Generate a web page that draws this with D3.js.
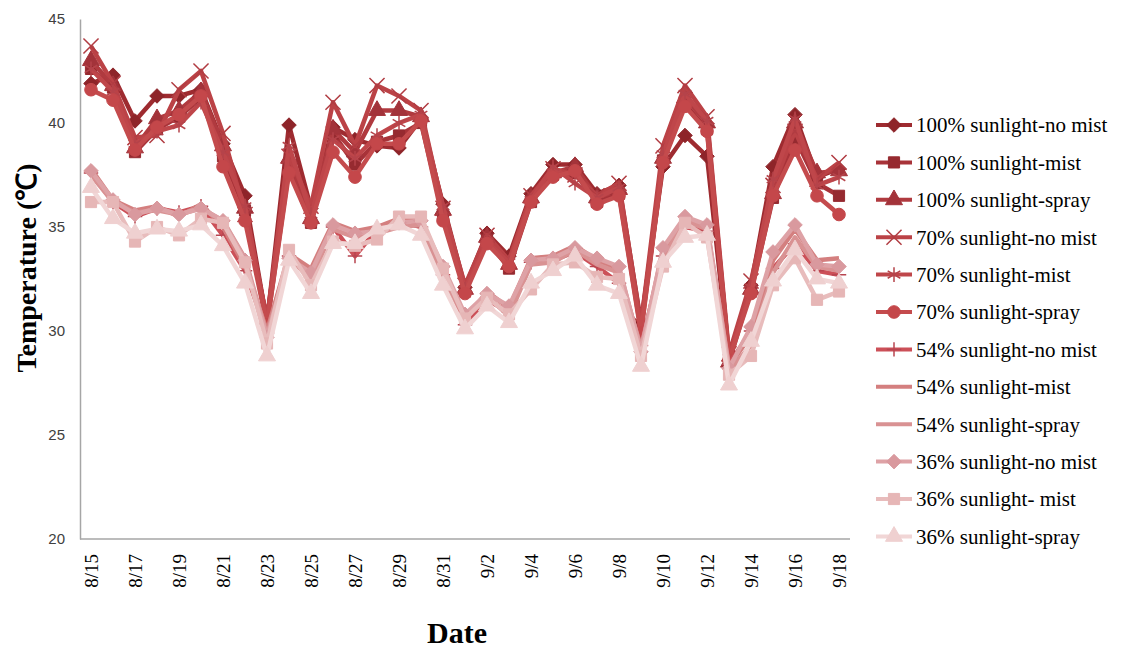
<!DOCTYPE html>
<html>
<head>
<meta charset="utf-8">
<script src="https://cdn.jsdelivr.net/npm/d3@7"></script>
<style>
  body { margin: 0; background: #fff; }
  .serif { font-family: "Liberation Serif", "Times New Roman", serif; }
  .sans { font-family: "Liberation Sans", Arial, sans-serif; }
</style>
</head>
<body>
<div class="chart"></div>
<script>
// dates 8/15 .. 9/18
const dates = ["8/15","8/16","8/17","8/18","8/19","8/20","8/21","8/22","8/23","8/24","8/25","8/26","8/27","8/28","8/29","8/30","8/31",
  "9/1","9/2","9/3","9/4","9/5","9/6","9/7","9/8","9/9","9/10","9/11","9/12","9/13","9/14","9/15","9/16","9/17","9/18"];
const tickDates = dates.filter((d, i) => i % 2 === 0);
const yTicks = [20, 25, 30, 35, 40, 45];

const seriesNames = ["100% sunlight-no mist","100% sunlight-mist","100% sunlight-spray",
  "70% sunlight-no mist","70% sunlight-mist","70% sunlight-spray",
  "54% sunlight-no mist","54% sunlight-mist","54% sunlight-spray",
  "36% sunlight-no mist","36% sunlight- mist","36% sunlight-spray"];

const sun100NoMist = [41.9,42.3,40.1,41.3,41.3,41.6,39.0,36.5,30.4,39.9,35.9,39.8,39.2,38.9,38.8,40.2,36.1,32.1,34.7,33.6,36.6,38.0,38.0,36.6,37.0,30.4,37.9,39.4,38.4,28.6,32.2,37.9,40.4,37.4,37.8];
const sun100Mist   = [42.6,41.7,38.6,39.7,40.3,41.2,38.4,35.8,30.3,37.8,35.2,39.5,38.0,39.1,39.4,40.0,35.6,31.9,34.4,33.0,36.2,37.5,37.6,36.2,36.6,30.0,38.2,40.9,39.7,28.8,31.9,36.4,39.3,37.1,36.5];
const sun100Spray  = [43.0,41.8,38.8,40.2,40.6,41.5,38.9,35.9,30.5,38.3,35.4,39.7,38.6,40.6,40.6,40.3,35.8,32.0,34.5,33.2,36.4,37.6,37.9,36.4,36.8,30.2,38.3,41.2,40.0,28.5,32.0,36.6,40.0,37.6,37.7];
const sun70NoMist  = [43.7,41.9,39.3,39.4,41.6,42.5,39.5,35.6,30.6,38.4,36.0,41.0,38.9,41.8,41.3,40.6,35.9,32.2,34.6,33.4,36.5,37.8,37.5,36.5,37.1,30.3,38.9,41.8,40.3,28.9,32.4,37.0,39.6,37.3,38.1];
const sun70Mist    = [42.6,41.5,39.0,39.6,39.9,41.0,38.6,36.0,30.4,38.9,35.6,39.2,38.3,39.4,40.0,40.4,36.0,32.0,34.3,33.3,36.3,37.9,37.1,36.4,36.9,30.1,38.5,41.4,40.1,28.7,32.1,37.3,40.2,37.0,37.4];
const sun70Spray   = [41.6,41.1,38.7,39.8,40.4,41.3,37.9,35.3,30.3,37.6,35.2,38.6,37.4,39.0,39.0,40.1,35.3,31.8,34.2,33.1,36.2,37.4,37.7,36.1,36.5,29.9,38.1,40.8,39.6,28.6,31.8,36.5,38.7,36.5,35.6];
const sun54NoMist  = [37.6,36.2,35.5,35.9,35.7,36.0,34.6,32.9,29.9,33.6,32.6,35.0,33.6,34.9,35.3,35.0,32.7,30.3,31.5,30.9,33.3,33.4,33.8,33.1,32.3,29.3,33.6,35.0,34.8,28.4,30.0,33.0,34.2,32.9,32.7];
const sun54Mist    = [37.8,36.3,35.8,36.0,35.5,36.1,35.0,33.1,30.0,33.7,33.0,35.2,34.8,35.0,35.4,35.3,32.9,30.5,31.9,31.1,33.5,33.6,34.1,33.4,33.0,29.1,33.9,35.4,35.0,28.3,29.8,33.4,34.9,33.4,33.5];
const sun54Spray   = [37.5,36.2,35.7,35.8,35.6,35.9,35.3,33.5,29.8,33.5,32.5,34.9,34.5,34.7,35.0,35.1,32.5,30.7,31.7,30.7,33.2,33.3,33.9,33.2,32.8,29.2,33.5,35.3,34.9,28.1,29.3,32.8,34.5,33.1,32.9];
const sun36NoMist  = [37.7,36.3,35.6,35.9,35.6,35.9,35.3,33.4,29.7,33.5,32.8,35.1,34.7,34.8,35.2,35.3,33.1,30.8,31.8,31.2,33.4,33.5,34.0,33.5,33.1,29.0,34.0,35.5,35.1,28.2,30.2,33.8,35.1,33.2,33.1];
const sun36Mist    = [36.2,36.2,34.3,35.0,34.6,35.4,35.2,33.3,29.4,33.9,32.2,34.3,34.1,34.4,35.5,35.5,33.0,30.6,31.6,30.8,32.0,33.2,33.3,32.6,32.5,28.8,33.1,35.2,34.5,27.9,28.8,32.2,33.5,31.5,31.9];
const sun36Spray   = [36.9,35.4,34.7,34.9,34.8,35.1,34.1,32.3,28.8,33.4,31.8,34.2,34.2,34.9,35.1,34.6,32.2,30.1,31.2,30.4,32.3,32.9,33.6,32.2,31.8,28.3,33.3,34.5,34.6,27.4,29.5,32.4,33.9,32.5,32.3];

const allValues = [sun100NoMist, sun100Mist, sun100Spray, sun70NoMist, sun70Mist, sun70Spray,
  sun54NoMist, sun54Mist, sun54Spray, sun36NoMist, sun36Mist, sun36Spray];

const colors = ["#9e2b30","#a83339","#b03a3f","#bb4246","#bf464a","#c44b4d",
  "#cc5058","#d47f7f","#d99293","#dea2a6","#e8bcbc","#f1d6d6"];
const markerColors = ["#8e2429","#962a30","#a3333a","#b13c42","#b5434a","#c4474a",
  "#b84550","none","none","#d9999e","#e6b6b6","#efd0d0"];
const markers = [d3.symbolDiamond2, d3.symbolSquare, d3.symbolTriangle, d3.symbolTimes, d3.symbolAsterisk, d3.symbolCircle,
  d3.symbolPlus, null, null, d3.symbolDiamond2, d3.symbolSquare, d3.symbolTriangle];
const markerSizes = [135, 125, 125, 150, 150, 125, 70, 0, 0, 135, 125, 125];
const strokeMarker = [false,false,false,true,true,false,true,false,false,false,false,false];

const w = 1144, h = 650;
const plotLeft = 80, plotRight = 850, plotTop = 19, plotBottom = 539;

const svg = d3.select(".chart").append("svg")
  .attr("width", w)
  .attr("height", h);

const xScale = d3.scalePoint()
  .domain(dates)
  .range([plotLeft, plotRight])
  .padding(0.5);

const yScale = d3.scaleLinear()
  .domain([20, 45])
  .range([plotBottom, plotTop]);

// y axis
const yAxis = d3.axisLeft(yScale).tickValues(yTicks).tickSize(0).tickPadding(15);
const gy = svg.append("g")
  .attr("transform", "translate(" + plotLeft + ",0)")
  .call(yAxis)
  .attr("font-family", null);
gy.select(".domain").attr("stroke", "#a6a6a6").attr("stroke-width", 1.5);
gy.selectAll("text")
  .attr("class", "sans")
  .attr("font-size", 15)
  .attr("fill", "#404040");

// x axis
const xAxis = d3.axisBottom(xScale).tickValues(tickDates).tickSize(0).tickPadding(0);
const gx = svg.append("g")
  .attr("transform", "translate(0," + plotBottom + ")")
  .call(xAxis)
  .attr("font-family", null);
gx.select(".domain").attr("stroke", "#a6a6a6").attr("stroke-width", 1.5)
  .attr("d", "M" + plotLeft + ",0H" + plotRight);
gx.selectAll("text")
  .attr("class", "serif")
  .attr("font-size", 19)
  .attr("fill", "#000")
  .attr("transform", "rotate(-90)")
  .attr("text-anchor", "end")
  .attr("x", -15)
  .attr("y", 0)
  .attr("dy", "0.35em");

// lines
const line = d3.line()
  .x((d, i) => xScale(dates[i]))
  .y(d => yScale(d));

allValues.forEach((vals, s) => {
  svg.append("path")
    .datum(vals)
    .attr("fill", "none")
    .attr("stroke", colors[s])
    .attr("stroke-width", 4.5)
    .attr("stroke-linejoin", "round")
    .attr("d", line);

  if (markers[s]) {
    const sym = d3.symbol().type(markers[s]).size(markerSizes[s]);
    svg.append("g").selectAll("path")
      .data(vals)
      .enter()
      .append("path")
      .attr("transform", (d, i) => "translate(" + xScale(dates[i]) + "," + yScale(d) + ")")
      .attr("d", sym)
      .attr("fill", strokeMarker[s] ? "none" : markerColors[s])
      .attr("stroke", markerColors[s])
      .attr("stroke-width", strokeMarker[s] ? 1.5 : 1);
  }
});

// axis titles
svg.append("text")
  .attr("class", "serif")
  .attr("transform", "translate(36,268) rotate(-90)")
  .attr("text-anchor", "middle")
  .attr("font-weight", "bold")
  .attr("font-size", 28)
  .text("Temperature (℃)");

svg.append("text")
  .attr("class", "serif")
  .attr("x", 457)
  .attr("y", 643)
  .attr("text-anchor", "middle")
  .attr("font-weight", "bold")
  .attr("font-size", 30)
  .text("Date");

// legend
const legend = svg.append("g");
seriesNames.forEach((name, s) => {
  const ly = 125 + s * 37.4;
  legend.append("line")
    .attr("x1", 876).attr("x2", 912)
    .attr("y1", ly).attr("y2", ly)
    .attr("stroke", colors[s])
    .attr("stroke-width", 4);
  if (markers[s]) {
    legend.append("path")
      .attr("transform", "translate(894," + ly + ")")
      .attr("d", d3.symbol().type(markers[s]).size(markerSizes[s]))
      .attr("fill", strokeMarker[s] ? "none" : markerColors[s])
      .attr("stroke", markerColors[s])
      .attr("stroke-width", strokeMarker[s] ? 1.5 : 1);
  }
  legend.append("text")
    .attr("class", "serif")
    .attr("x", 916)
    .attr("y", ly)
    .attr("dy", "0.35em")
    .attr("font-size", 21)
    .text(name);
});
</script>
</body>
</html>
